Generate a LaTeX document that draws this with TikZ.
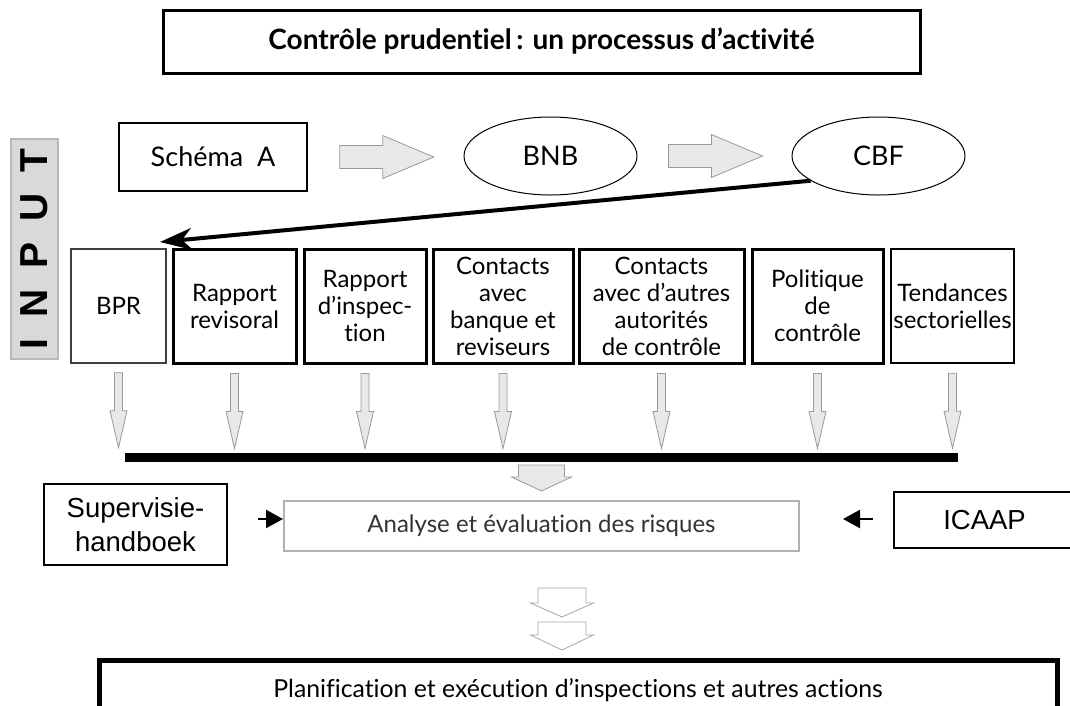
\documentclass[tikz,border=0pt]{standalone}
\usepackage{fontspec}
\setmainfont{Lato}[Ligatures=NoCommon]
\newfontfamily\arialfont{Liberation Sans}
\newfontfamily\inputfont{Liberation Sans}[LetterSpace=54]
\usetikzlibrary{arrows.meta,shapes.geometric}

\tikzset{
  box/.style={draw, rectangle, inner sep=0pt, align=center},
  inbox/.style={box, line width=3pt, minimum height=114pt, font=\fontsize{24}{27}\selectfont},
  oval/.style={draw, ellipse, line width=1pt, minimum width=173pt, minimum height=78pt, inner sep=0pt, font=\fontsize{27}{32}\selectfont},
  blockarrow/.style={draw=gray!80, fill=gray!18, line width=0.8pt},
  openarrow/.style={draw=gray!70, fill=white, line width=0.8pt},
  pointer/.style={line width=2.2pt, -{Triangle[length=17pt,width=18pt]}},
}

% block arrows: style, tail (top) centre, half shaft, half head, shaft length, head length
\newcommand{\rightblock}[6]{\draw[#1] (#2) ++(0,-#3) -- ++(#5,0) -- ++(0,#3-#4) -- ++(#6,#4) -- ++(-#6,#4) -- ++(0,#3-#4) -- ++(-#5,0) -- cycle;}
\newcommand{\downblock}[6]{\draw[#1] (#2) ++(-#3,0) -- ++(0,#5) -- ++(#3-#4,0) -- ++(#4,#6) -- ++(#4,-#6) -- ++(#3-#4,0) -- ++(0,-#5) -- cycle;}

\begin{document}
\begin{tikzpicture}[x=1pt,y=-1pt]
  \useasboundingbox (0,0) rectangle (1070,705);
  \clip (0,0) rectangle (1070,705);

  % Title
  \node[box, line width=3pt, minimum width=757pt, minimum height=63pt, font=\bfseries\fontsize{28}{31}\selectfont] (title) at (541.5,41.5) {Contrôle prudentiel\,: un processus d’activité};

  % Sources
  \node[box, line width=1.5pt, minimum width=188pt, minimum height=68pt, font=\fontsize{27}{32}\selectfont] (schema) at (213,157) {Schéma\ \ A};
  \node[oval] (bnb) at (550.5,156) {BNB};
  \node[oval] (cbf) at (878.5,156) {CBF};
  \rightblock{blockarrow}{[xshift=32pt]schema.east}{11.5}{21.5}{43}{51}
  \rightblock{blockarrow}{[xshift=31pt]bnb.east}{11.5}{21.5}{43}{51}

  % Input label
  \node[box, draw=gray!55, fill=gray!30, line width=1.2pt, rotate=90, minimum width=220pt, minimum height=47pt, font=\inputfont\bfseries\fontsize{39}{39}\selectfont] (input) at (34.5,249) {INPUT};

  % Input boxes
  \node[inbox, line width=1.5pt, draw=black!75, minimum width=95pt] (bpr) at (118.5,306) {BPR};
  \node[inbox, minimum width=123pt] (revis) at (234.5,306) {Rapport\\revisoral};
  \node[inbox, minimum width=122pt] (insp) at (365,306) {Rapport\\d’inspec-\\tion};
  \node[inbox, minimum width=140pt] (bank) at (503,306) {Contacts\\avec\\banque et\\reviseurs};
  \node[inbox, minimum width=165pt] (auth) at (661.5,306) {Contacts\\avec d’autres\\autorités\\de contrôle};
  \node[inbox, minimum width=131pt] (polic) at (817.5,306) {Politique\\de\\contrôle};
  \node[inbox, line width=2.5pt, minimum width=123pt] (trend) at (952.5,306) {Tendances\\sectorielles};

  % CBF to BPR
  \coordinate (bprin) at (160,242);
  \draw[line width=4pt, -{Stealth[length=32pt,width=22pt,inset=10pt]}] (cbf.200) -- (bprin);

  % Arrows down to the bar
  \foreach \b in {bpr,revis,insp,bank,auth,polic,trend}
    \downblock{blockarrow}{[yshift=-9pt]\b.south}{4}{8.5}{38}{37}
  \coordinate (barl) at (125,457.5);
  \coordinate (barr) at (958,457.5);
  \draw[line width=9pt] (barl) -- (barr);

  % Analysis
  \node[box, draw=gray!60, line width=2pt, minimum width=515pt, minimum height=50pt, text=black!80, font=\fontsize{24}{28}\selectfont] (analyse) at (541.5,526) {Analyse et évaluation des risques};
  \downblock{blockarrow}{[yshift=35pt]analyse.north}{23}{30}{12}{14}
  \node[box, line width=2pt, minimum width=183pt, minimum height=81pt, font=\arialfont\fontsize{27.5}{34}\selectfont] (super) at (135.5,524.5) {Supervisie-\\handboek};
  \node[box, line width=2pt, minimum width=181pt, minimum height=56pt, font=\arialfont\fontsize{27.5}{34}\selectfont] (icaap) at (984.5,520) {ICAAP};
  \coordinate (supout) at (258,519);
  \draw[pointer] (supout) -- (supout -| analyse.west);
  \coordinate (icaapout) at (873,519);
  \coordinate (icaaptip) at (843,519);
  \draw[pointer] (icaapout) -- (icaaptip);

  % Planning
  \coordinate (flow) at (562,588);
  \downblock{openarrow}{flow}{24}{31.5}{15}{14}
  \downblock{openarrow}{[yshift=-34pt]flow}{24}{31.5}{13}{15}
  \node[box, line width=5pt, minimum width=958pt, minimum height=60pt, font=\fontsize{24.8}{28}\selectfont] (plan) at (578,690) {Planification et exécution d’inspections et autres actions};
\end{tikzpicture}
\end{document}
